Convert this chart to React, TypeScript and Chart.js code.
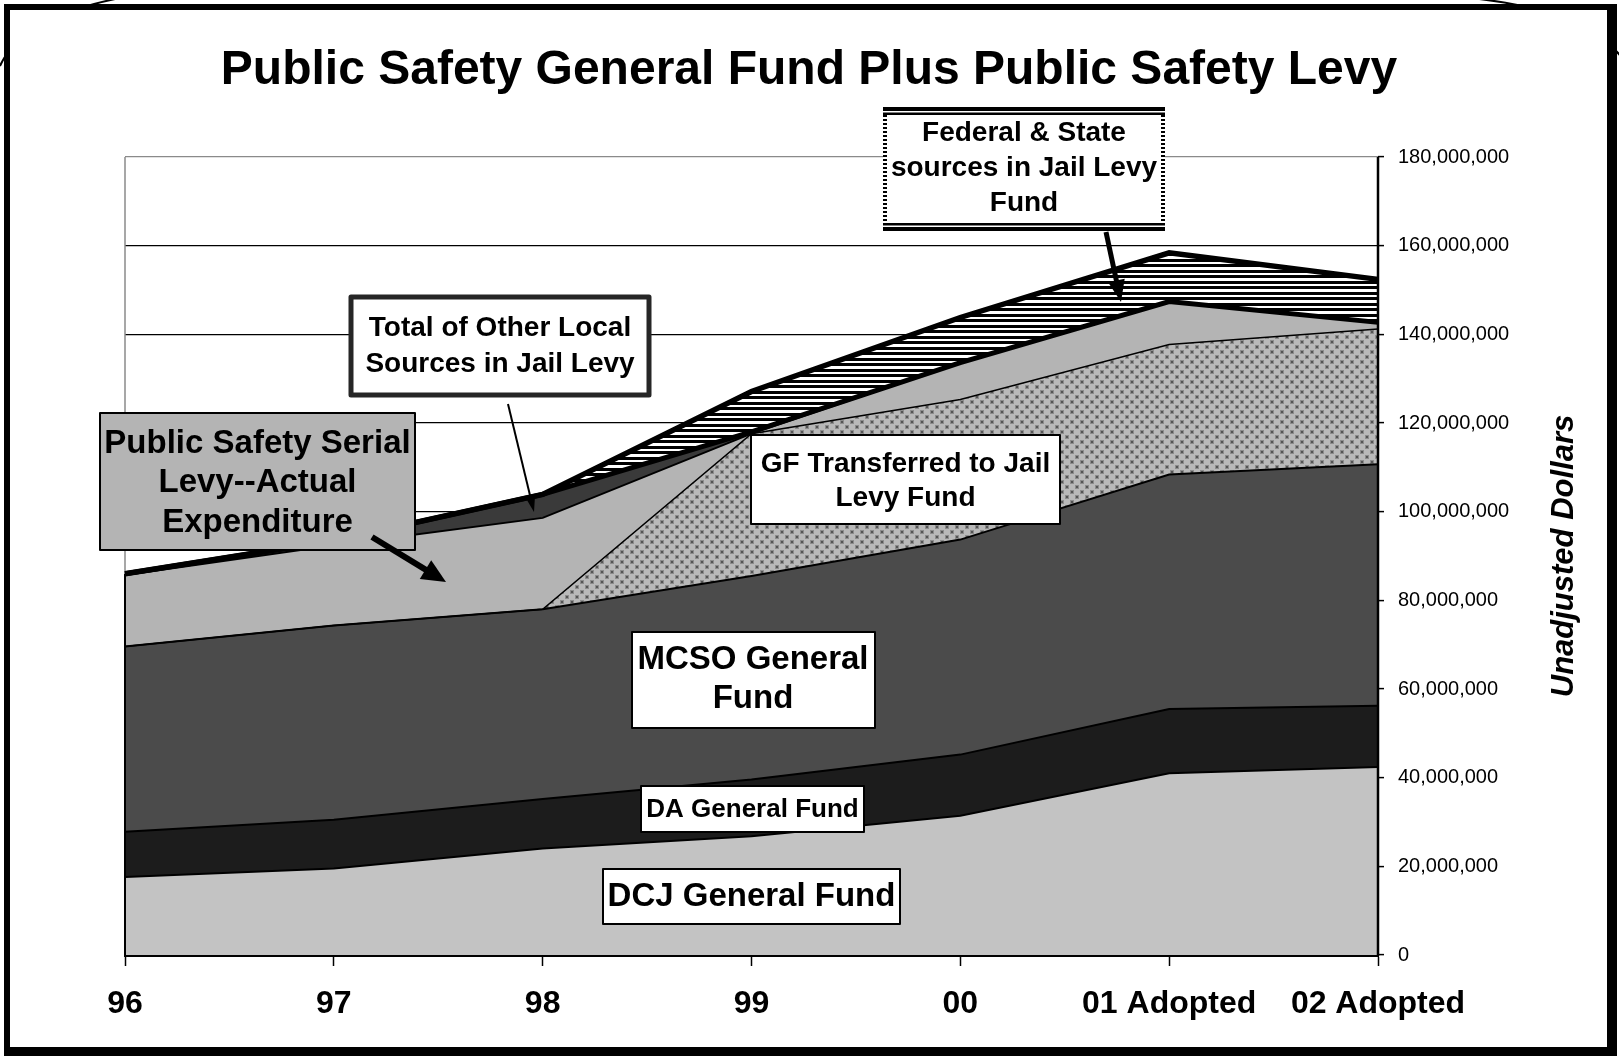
import React, { useEffect, useRef } from "react";
import { Chart, registerables } from "chart.js";

Chart.register(...registerables);

// ---------- DATA (millions of dollars, stacked bottom to top) ----------
const categories = ["96", "97", "98", "99", "00", "01 Adopted", "02 Adopted"];
const dcjGeneralFund = [17.6, 19.5, 24.0, 26.8, 31.4, 41.0, 42.4];
const daGeneralFund = [10.2, 11.0, 11.2, 12.8, 13.8, 14.5, 13.8];
const mcsoGeneralFund = [41.8, 43.8, 42.8, 45.9, 48.5, 52.9, 54.5];
const gfTransferredToJailLevy = [0, 0, 0, 32.1, 31.6, 29.3, 30.5];
const serialLevyActual = [16.1, 18.1, 20.6, 0, 8.3, 9.7, 1.5];
const otherLocalJailLevy = [0.3, 1.1, 5.3, 0.4, 0, 0, 0];
const federalStateJailLevy = [0, 0, 0, 9.1, 10.2, 11.0, 9.7];
const yTickValues = [0, 20, 40, 60, 80, 100, 120, 140, 160, 180];

const TITLE = "Public Safety General Fund Plus Public Safety Levy";
const Y_TITLE = "Unadjusted Dollars";

const FONT = "'Liberation Sans', Arial, Helvetica, sans-serif";
const M = 1e6;
const toDollars = (a: number[]) => a.map((v) => v * M);

// ---------- CALLOUT LAYOUT ----------
type Callout = {
  lines: string[];
  x: number; y: number; w: number; h: number;
  fill: string; stroke: string; lw: number;
  size: number; cx: number; y0: number; step: number;
};
const callouts: Callout[] = [
  { lines: ["Federal & State", "sources in Jail Levy", "Fund"], x: 883, y: 107, w: 282, h: 124, fill: "#ffffff", stroke: "hatch", lw: 0, size: 28, cx: 1024, y0: 133, step: 35 },
  { lines: ["Total of Other Local", "Sources in Jail Levy"], x: 351, y: 297, w: 298, h: 98, fill: "#ffffff", stroke: "#262626", lw: 5, size: 28, cx: 500, y0: 328.5, step: 36 },
  { lines: ["Public Safety Serial", "Levy--Actual", "Expenditure"], x: 100, y: 413, w: 315, h: 137, fill: "#b4b4b4", stroke: "#000000", lw: 2, size: 33, cx: 257.5, y0: 443.5, step: 39.5 },
  { lines: ["GF Transferred to Jail", "Levy Fund"], x: 751, y: 435, w: 309, h: 89, fill: "#ffffff", stroke: "#000000", lw: 2, size: 28, cx: 905.5, y0: 464, step: 34 },
  { lines: ["MCSO General", "Fund"], x: 632, y: 632, w: 243, h: 96, fill: "#ffffff", stroke: "#000000", lw: 2, size: 33, cx: 753, y0: 660, step: 38.5 },
  { lines: ["DA General Fund"], x: 641, y: 786, w: 223, h: 46, fill: "#ffffff", stroke: "#000000", lw: 2, size: 26, cx: 752.5, y0: 810, step: 0 },
  { lines: ["DCJ General Fund"], x: 603, y: 869, w: 297, h: 55, fill: "#ffffff", stroke: "#000000", lw: 2, size: 33, cx: 751.5, y0: 897, step: 0 },
];
const arrows = [
  { x1: 372, y1: 537, x2: 446, y2: 582, shaft: 6, headLen: 24, headW: 22 },
  { x1: 1106, y1: 232, x2: 1121, y2: 302, shaft: 5, headLen: 22, headW: 17 },
  { x1: 508, y1: 404, x2: 534, y2: 512, shaft: 2, headLen: 13, headW: 8 },
];

function makeDotPattern(ctx: CanvasRenderingContext2D) {
  const c = document.createElement("canvas");
  c.width = 10; c.height = 10;
  const g = c.getContext("2d")!;
  g.fillStyle = "#b9b9b9"; g.fillRect(0, 0, 10, 10);
  g.fillStyle = "#8c8c8c";
  g.fillRect(0, 0, 4, 4); g.fillRect(5, 5, 4, 4);
  g.fillStyle = "#555555";
  g.fillRect(1, 1, 2, 2); g.fillRect(6, 6, 2, 2);
  return ctx.createPattern(c, "repeat")!;
}

function makeHatchPattern(ctx: CanvasRenderingContext2D) {
  const c = document.createElement("canvas");
  c.width = 8; c.height = 11;
  const g = c.getContext("2d")!;
  g.fillStyle = "#ffffff"; g.fillRect(0, 0, 8, 11);
  g.fillStyle = "#000000";
  g.fillRect(0, 0, 8, 3); g.fillRect(0, 6, 8, 3);
  return ctx.createPattern(c, "repeat")!;
}

function drawArrow(ctx: CanvasRenderingContext2D, a: typeof arrows[number]) {
  const ang = Math.atan2(a.y2 - a.y1, a.x2 - a.x1);
  const cs = Math.cos(ang), sn = Math.sin(ang);
  const bx = a.x2 - a.headLen * cs, by = a.y2 - a.headLen * sn;
  ctx.save();
  ctx.strokeStyle = "#000"; ctx.fillStyle = "#000";
  ctx.lineWidth = a.shaft; ctx.lineCap = "butt";
  ctx.beginPath(); ctx.moveTo(a.x1, a.y1); ctx.lineTo(bx + cs * 2, by + sn * 2); ctx.stroke();
  const px = -sn, py = cs;
  ctx.beginPath();
  ctx.moveTo(a.x2, a.y2);
  ctx.lineTo(bx + (px * a.headW) / 2, by + (py * a.headW) / 2);
  ctx.lineTo(bx - (px * a.headW) / 2, by - (py * a.headW) / 2);
  ctx.closePath(); ctx.fill();
  ctx.restore();
}

function drawHatchBorder(c: CanvasRenderingContext2D, b: Callout) {
  c.fillStyle = "#000";
  // top: thick black, thin white, black
  c.fillRect(b.x, b.y, b.w, 4);
  c.fillRect(b.x, b.y + 5.5, b.w, 2.5);
  // bottom
  c.fillRect(b.x, b.y + b.h - 8, b.w, 2.5);
  c.fillRect(b.x, b.y + b.h - 4, b.w, 4);
  // dotted sides
  for (let yy = b.y + 8; yy < b.y + b.h - 8; yy += 4) {
    c.fillRect(b.x, yy, 4, 2);
    c.fillRect(b.x + b.w - 4, yy, 4, 2);
  }
}

export default function App() {
  const ref = useRef<HTMLCanvasElement | null>(null);

  useEffect(() => {
    const canvas = ref.current!;
    const ctx = canvas.getContext("2d")!;
    const dots = makeDotPattern(ctx);
    const hatch = makeHatchPattern(ctx);

    const decor = {
      id: "decor",
      beforeDraw(chart: any) {
        const c = chart.ctx as CanvasRenderingContext2D;
        const W = chart.width, H = chart.height;
        c.save();
        c.fillStyle = "#fff"; c.fillRect(0, 0, W, H);
        // outer rounded shape peeking at the corners
        c.strokeStyle = "#000"; c.lineWidth = 2;
        c.beginPath(); c.moveTo(0, 66); c.quadraticCurveTo(21.5, 17.6, 120, -2); c.stroke();
        c.beginPath(); c.moveTo(1470, -2); c.quadraticCurveTo(1590, 10, 1625, 62); c.stroke();
        // frame
        c.fillStyle = "#fff"; c.fillRect(4, 4, 1612, 1052);
        c.fillStyle = "#000";
        c.fillRect(4, 4, 6, 1052);
        c.fillRect(4, 4, 1612, 6);
        c.fillRect(1607, 4, 10, 1052);
        c.fillRect(4, 1047, 1613, 9);
        // title
        c.fillStyle = "#000";
        c.font = `bold 48px ${FONT}`;
        c.textAlign = "center"; c.textBaseline = "alphabetic";
        c.fillText(TITLE, 809, 84);
        c.restore();
      },
      beforeDatasetsDraw(chart: any) {
        const c = chart.ctx as CanvasRenderingContext2D;
        const a = chart.chartArea;
        c.save();
        c.strokeStyle = "#8a8a8a"; c.lineWidth = 1.5;
        c.beginPath(); c.moveTo(a.left, a.top); c.lineTo(a.left, a.bottom); c.stroke();
        c.restore();
      },
      afterDraw(chart: any) {
        const c = chart.ctx as CanvasRenderingContext2D;
        const a = chart.chartArea;
        const ys = chart.scales.y;
        const topFirst = [dcjGeneralFund, daGeneralFund, mcsoGeneralFund, gfTransferredToJailLevy, serialLevyActual, otherLocalJailLevy, federalStateJailLevy]
          .reduce((s, arr) => s + arr[0], 0);
        c.save();
        // left edge of the stacked areas
        c.strokeStyle = "#000"; c.lineWidth = 2;
        c.beginPath(); c.moveTo(a.left, ys.getPixelForValue(0)); c.lineTo(a.left, ys.getPixelForValue(topFirst * M)); c.stroke();
        // right value axis line
        c.lineWidth = 2.5;
        c.beginPath(); c.moveTo(a.right, a.top); c.lineTo(a.right, a.bottom + 1); c.stroke();
        // callouts
        for (const b of callouts) {
          c.fillStyle = b.fill;
          c.fillRect(b.x, b.y, b.w, b.h);
          if (b.stroke === "hatch") {
            drawHatchBorder(c, b);
          } else {
            c.lineWidth = b.lw;
            c.strokeStyle = b.stroke;
            c.lineJoin = "round";
            c.strokeRect(b.x, b.y, b.w, b.h);
          }
          c.fillStyle = "#000";
          c.font = `bold ${b.size}px ${FONT}`;
          c.textAlign = "center"; c.textBaseline = "middle";
          b.lines.forEach((t, i) => c.fillText(t, b.cx, b.y0 + i * b.step));
        }
        for (const ar of arrows) drawArrow(c, ar);
        // rotated axis title
        c.translate(1564, (a.top + a.bottom) / 2);
        c.rotate(-Math.PI / 2);
        c.fillStyle = "#000";
        c.font = `italic bold 31px ${FONT}`;
        c.textAlign = "center"; c.textBaseline = "middle";
        c.fillText(Y_TITLE, 0, 0);
        c.restore();
      },
    };

    const base = { pointRadius: 0, pointHoverRadius: 0, tension: 0, borderColor: "#000", borderJoinStyle: "miter" as const };
    const chart = new Chart(ctx, {
      type: "line",
      data: {
        labels: categories,
        datasets: [
          { ...base, label: "DCJ General Fund", data: toDollars(dcjGeneralFund), backgroundColor: "#c3c3c3", borderWidth: 2, fill: "origin" },
          { ...base, label: "DA General Fund", data: toDollars(daGeneralFund), backgroundColor: "#1c1c1c", borderWidth: 2, fill: "-1" },
          { ...base, label: "MCSO General Fund", data: toDollars(mcsoGeneralFund), backgroundColor: "#4b4b4b", borderWidth: 2, fill: "-1" },
          { ...base, label: "GF Transferred to Jail Levy Fund", data: toDollars(gfTransferredToJailLevy), backgroundColor: dots, borderWidth: 1.5, fill: "-1" },
          { ...base, label: "Public Safety Serial Levy--Actual Expenditure", data: toDollars(serialLevyActual), backgroundColor: "#b4b4b4", borderWidth: 2, fill: "-1" },
          { ...base, label: "Total of Other Local Sources in Jail Levy", data: toDollars(otherLocalJailLevy), backgroundColor: "#3a3a3a", borderWidth: 5, fill: "-1" },
          { ...base, label: "Federal & State sources in Jail Levy Fund", data: toDollars(federalStateJailLevy), backgroundColor: hatch, borderWidth: 5.5, fill: "-1" },
        ],
      },
      options: {
        responsive: false,
        animation: false,
        events: [],
        layout: { padding: { left: 125, top: 157, right: 91, bottom: 35 } },
        plugins: {
          legend: { display: false },
          tooltip: { enabled: false },
          title: { display: false },
          filler: { drawTime: "beforeDatasetsDraw" },
        } as any,
        scales: {
          x: {
            type: "category",
            offset: false,
            z: 1,
            grid: { display: true, drawOnChartArea: false, drawTicks: true, tickLength: 11, tickColor: "#000", tickWidth: 1.5 },
            border: { display: true, color: "#000", width: 3 },
            ticks: {
              autoSkip: false, maxRotation: 0, minRotation: 0, padding: 19, color: "#000",
              font: { family: FONT, size: 32, weight: "bold" },
            },
            afterFit: (s: any) => { s.height = 70; },
          },
          y: {
            type: "linear",
            position: "right",
            stacked: true,
            min: yTickValues[0] * M,
            max: yTickValues[yTickValues.length - 1] * M,
            afterBuildTicks: (s: any) => { s.ticks = yTickValues.map((v) => ({ value: v * M })); },
            grid: {
              color: (c: any) => (c.tick && c.tick.value === yTickValues[yTickValues.length - 1] * M ? "#8a8a8a" : "#000"),
              lineWidth: 1.2,
              drawTicks: true, tickLength: 6, tickColor: "#000", tickWidth: 1.5,
            },
            border: { display: false },
            ticks: {
              padding: 14, color: "#000",
              font: { family: FONT, size: 20 },
              callback: (v: any) => Number(v).toLocaleString("en-US"),
            },
            afterFit: (s: any) => { s.width = 150; },
          },
        },
      },
      plugins: [decor],
    });
    return () => chart.destroy();
  }, []);

  return (
    <div style={{ position: "absolute", left: 0, top: 0, width: 1619, height: 1060, overflow: "hidden" }}>
      <canvas ref={ref} width={1619} height={1060} style={{ display: "block", width: 1619, height: 1060 }} />
    </div>
  );
}
